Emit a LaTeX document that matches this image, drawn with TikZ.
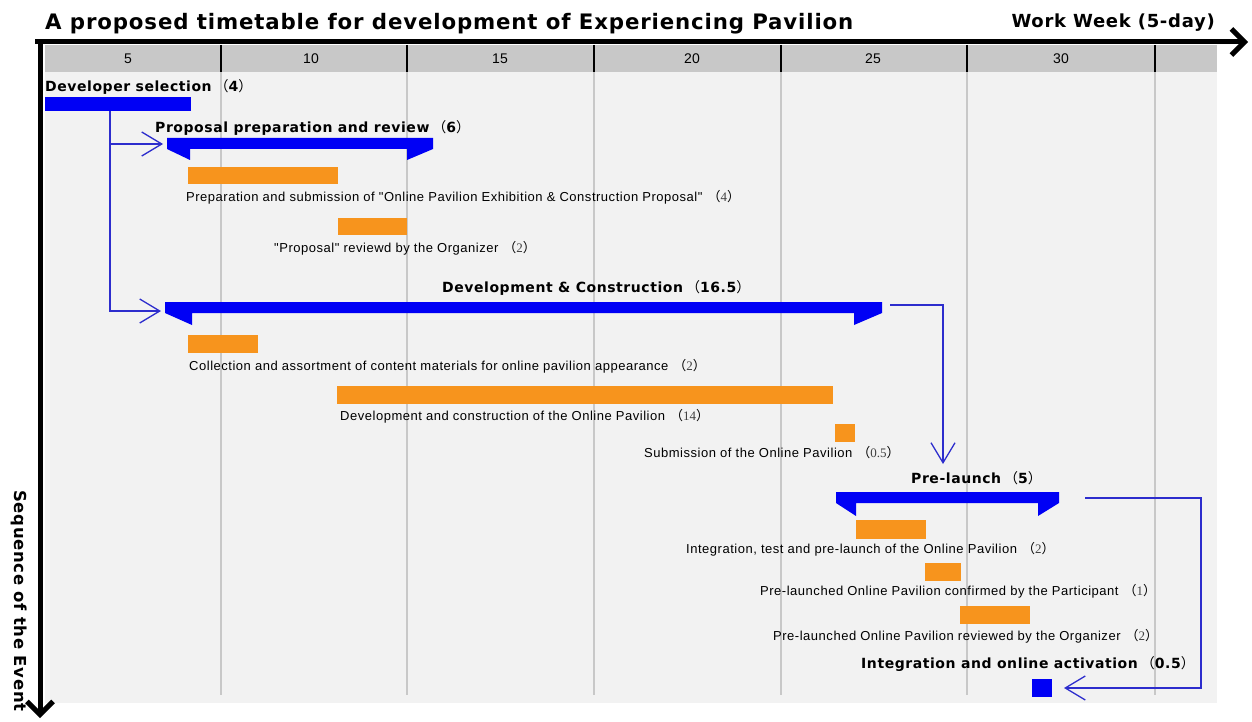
\documentclass[tikz,border=0pt]{standalone}
\usepackage{fontspec}
\setmainfont{Liberation Sans}
\newfontfamily\heavy[LetterSpace=4]{DejaVu Sans}
\newfontfamily\plain[LetterSpace=4]{Liberation Sans}
\newfontfamily\cjk{Noto Sans CJK SC}
\newfontfamily\numfont{Liberation Serif}
\usetikzlibrary{arrows.meta,positioning}

\definecolor{barblue}{RGB}{0,0,245}
\definecolor{linkblue}{RGB}{45,45,205}
\definecolor{taskorange}{RGB}{247,148,29}
\definecolor{panegrey}{RGB}{242,242,242}
\definecolor{headgrey}{RGB}{200,200,200}

% durations with full-width brackets
\newcommand{\dur}[1]{\hspace{5pt}{\cjk （}{\numfont\color{darkgray}#1}{\cjk ）}}
\newcommand{\bdur}[1]{\hspace{3pt}{\cjk\mdseries （}#1{\cjk\mdseries ）}}

\begin{document}
\begin{tikzpicture}[x=1pt,y=-1pt,
    taskbar/.style={fill=taskorange, anchor=north west, inner sep=0pt, outer sep=0pt},
    keybar/.style={fill=barblue, anchor=north west, inner sep=0pt, outer sep=0pt},
    summary/.style={fill=barblue},
    tasklabel/.style={anchor=west, inner sep=0pt, font=\plain\fontsize{13}{15}\selectfont},
    keylabel/.style={anchor=west, inner sep=0pt, font=\heavy\fontsize{14}{16}\selectfont\bfseries},
    weeklabel/.style={font=\fontsize{14}{16}\selectfont},
    grid line/.style={draw=headgrey, line width=2.5pt},
    head line/.style={draw=black, line width=2.5pt},
    link/.style={draw=linkblue, line width=1.3pt, -{Straight Barb[length=20pt,width=24pt]}},
    axis/.style={line width=5pt, -{Straight Barb[length=13pt,width=26pt]}}
]
\useasboundingbox (0,0) rectangle (1252,722);

% Frame
\fill[panegrey] (45,72) rectangle (1217,703);
\fill[headgrey] (45,45) rectangle (1217,72);

\draw[grid line] (221,72) -- (221,695);
\draw[grid line] (407,72) -- (407,695);
\draw[grid line] (594,72) -- (594,695);
\draw[grid line] (781,72) -- (781,695);
\draw[grid line] (967,72) -- (967,695);
\draw[grid line] (1155,72) -- (1155,695);

\draw[head line] (221,45) -- (221,72);
\draw[head line] (407,45) -- (407,72);
\draw[head line] (594,45) -- (594,72);
\draw[head line] (781,45) -- (781,72);
\draw[head line] (967,45) -- (967,72);
\draw[head line] (1155,45) -- (1155,72);

\node[weeklabel] (wk5) at (128,59) {5};
\node[weeklabel] (wk10) at (311,59) {10};
\node[weeklabel] (wk15) at (500,59) {15};
\node[weeklabel] (wk20) at (692,59) {20};
\node[weeklabel] (wk25) at (873,59) {25};
\node[weeklabel] (wk30) at (1061,59) {30};

% Axes
\coordinate (xstart) at (35,42);
\coordinate (xend) at (1248,42);
\coordinate (ystart) at (40,40);
\coordinate (yend) at (40,718);
\draw[axis] (xstart) -- (xend);
\draw[axis] (ystart) -- (yend);

\node[anchor=base west, inner sep=0pt, font=\heavy\fontsize{21.3}{24}\selectfont\bfseries] (title) at (45,30)
    {A proposed timetable for development of Experiencing Pavilion};
\node[anchor=base east, inner sep=0pt, font=\heavy\fontsize{18}{20}\selectfont\bfseries] (xtitle) at (1215,28)
    {Work Week (5-day)};
\node[anchor=north west, rotate=-90, inner sep=0pt, font=\heavy\fontsize{16.5}{18}\selectfont\bfseries] (ytitle) at (27,490)
    {Sequence of the Event};

% Nodes
\node[keylabel] (devsel-l) at (45,87) {Developer selection\bdur{4}};
\node[keybar, minimum width=146pt, minimum height=14pt] (devsel) at (45,97) {};

\node[keylabel] (prop-l) at (155,128) {Proposal preparation and review\bdur{6}};
\fill[summary] (167,138) -- (433,138) -- (433,149) -- (407,160) -- (407,149)
    -- (190,149) -- (190,160) -- (167,149) -- cycle;
\coordinate (prop-in) at (163,144);

\node[taskbar, minimum width=150pt, minimum height=17pt] (prep) at (188,167) {};
\node[tasklabel] (prep-l) at (186,197)
    {Preparation and submission of "Online Pavilion Exhibition \& Construction Proposal"\dur{4}};
\node[taskbar, minimum width=69pt, minimum height=17pt] (review) at (338,218) {};
\node[tasklabel] (review-l) at (274,248) {"Proposal" reviewd by the Organizer\dur{2}};

\node[keylabel] (dev-l) at (442,288) {Development \& Construction\bdur{16.5}};
\fill[summary] (165,302) -- (882,302) -- (882,313) -- (854,325) -- (854,313)
    -- (192,313) -- (192,325) -- (165,313) -- cycle;
\coordinate (dev-in) at (161,311);
\coordinate (dev-out) at (890,305);

\node[taskbar, minimum width=70pt, minimum height=18pt] (collect) at (188,335) {};
\node[tasklabel] (collect-l) at (189,366)
    {Collection and assortment of content materials for online pavilion appearance\dur{2}};
\node[taskbar, minimum width=496pt, minimum height=18pt] (build) at (337,386) {};
\node[tasklabel] (build-l) at (340,416) {Development and construction of the Online Pavilion\dur{14}};
\node[taskbar, minimum width=20pt, minimum height=18pt] (submit) at (835,424) {};
\node[tasklabel] (submit-l) at (644,453) {Submission of the Online Pavilion\dur{0.5}};

\node[keylabel] (pre-l) at (911,478) {Pre-launch\bdur{5}};
\fill[summary] (836,492) -- (1059,492) -- (1059,503) -- (1038,516) -- (1038,503)
    -- (856,503) -- (856,516) -- (836,503) -- cycle;
\coordinate (pre-in) at (943,464);
\coordinate (pre-out) at (1085,498);

\node[taskbar, minimum width=70pt, minimum height=19pt] (test) at (856,520) {};
\node[tasklabel] (test-l) at (686,549) {Integration, test and pre-launch of the Online Pavilion\dur{2}};
\node[taskbar, minimum width=36pt, minimum height=18pt] (confirm) at (925,563) {};
\node[tasklabel] (confirm-l) at (760,591) {Pre-launched Online Pavilion confirmed by the Participant\dur{1}};
\node[taskbar, minimum width=70pt, minimum height=18pt] (check) at (960,606) {};
\node[tasklabel] (check-l) at (773,636) {Pre-launched Online Pavilion reviewed by the Organizer\dur{2}};

\node[keylabel] (act-l) at (861,664) {Integration and online activation\bdur{0.5}};
\node[keybar, minimum width=20pt, minimum height=18pt] (act) at (1032,679) {};
\coordinate (act-in) at (1064,688);

% Connections
\coordinate (fork) at (110,111);
\draw[link] (fork) |- (prop-in);
\draw[link] (fork) |- (dev-in);
\draw[link] (dev-out) -| (pre-in);
\coordinate (turn) at (1201,688);
\draw[link] (pre-out) -| (turn) -- (act-in);
\end{tikzpicture}
\end{document}
